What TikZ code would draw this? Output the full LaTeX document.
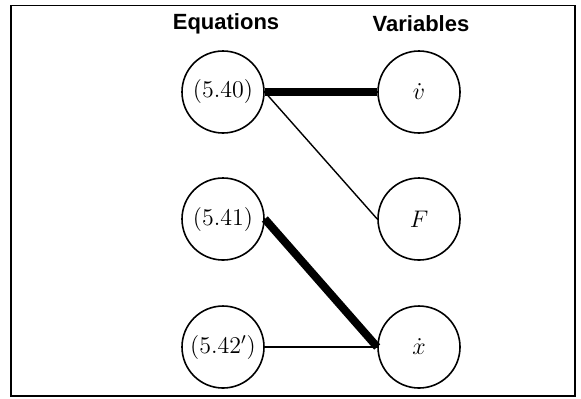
\documentclass[tikz,border=0pt]{standalone}
\usepackage{fontspec}
\newfontfamily\headfont{Liberation Sans}
\tikzset{
  eqnode/.style={draw, circle, line width=0.8pt, minimum size=41pt, inner sep=0pt,
    font=\fontsize{12}{14}\selectfont},
  heading/.style={font=\headfont\bfseries\fontsize{11}{13}\selectfont},
  strong/.style={line width=4pt},
  weak/.style={line width=0.7pt}
}
\begin{document}
\begin{tikzpicture}[x=0.5pt, y=-0.5pt]
    % Rahmen
    \useasboundingbox (0,0) rectangle (581,398);
    \draw[line width=0.8pt] (11,5.5) rectangle (575,396);

    % Spaltenkoepfe
    \node[heading] (heq) at (226,24) {Equations};
    \node[heading] (hvar) at (421,24) {Variables};

    % Gleichungen
    \node[eqnode] (e40) at (223,92) {(5.40)};
    \node[eqnode] (e41) at (223,219) {(5.41)};
    \node[eqnode] (e42) at (223,347) {(5.42$'$)};

    % Variablen
    \node[eqnode] (vdot) at (419,92) {$\dot v$};
    \node[eqnode] (force) at (419,219) {$F$};
    \node[eqnode] (xdot) at (419,347) {$\dot x$};

    % Zuordnung
    \draw[strong] (e40.east) -- (vdot.west);
    \draw[weak] (e40.east) -- (force.west);
    \draw[strong] (e41.east) -- (xdot.west);
    \draw[weak] (e42.east) -- (xdot.west);
\end{tikzpicture}
\end{document}
